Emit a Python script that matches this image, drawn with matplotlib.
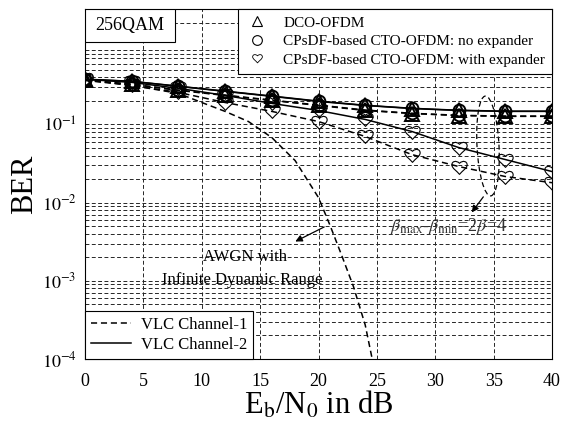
import matplotlib
matplotlib.use("Agg")
import matplotlib.pyplot as plt
import numpy as np
from matplotlib.path import Path
from matplotlib.lines import Line2D
from matplotlib.patches import Ellipse, Rectangle
from matplotlib.transforms import Affine2D
from matplotlib.ticker import LogLocator, NullFormatter, FixedLocator

plt.rcParams['font.family'] = ['Liberation Serif', 'DejaVu Serif']
plt.rcParams['mathtext.fontset'] = 'stix'

# ---------------- data ----------------
snr = [0, 4, 8, 12, 16, 20, 24, 28, 32, 36, 40]

# VLC Channel-1 (dashed)
dco_ch1 = [0.367, 0.326, 0.273, 0.235, 0.203, 0.175, 0.151, 0.138, 0.130, 0.127, 0.127]
noexp_ch1 = [0.369, 0.328, 0.275, 0.237, 0.205, 0.177, 0.153, 0.139, 0.131, 0.128, 0.128]
exp_ch1 = [0.367, 0.316, 0.257, 0.191, 0.147, 0.109, 0.0702, 0.0412, 0.0290, 0.0216, 0.0180]

# VLC Channel-2 (solid)
dco_ch2 = [0.378, 0.356, 0.307, 0.265, 0.229, 0.197, 0.175, 0.160, 0.151, 0.147, 0.147]
noexp_ch2 = [0.380, 0.357, 0.309, 0.267, 0.231, 0.199, 0.176, 0.161, 0.152, 0.148, 0.148]
exp_ch2 = [0.378, 0.3455, 0.290, 0.2355, 0.186, 0.151, 0.116, 0.0813, 0.0507, 0.0356, 0.0250]

# AWGN with infinite dynamic range
awgn_snr = [0, 4, 8, 10, 12, 14, 16, 18, 20, 21, 22, 23, 24, 24.6]
awgn_ber = [0.378, 0.316, 0.250, 0.191, 0.147, 0.109, 0.068, 0.0345, 0.0116,
            5.07e-3, 2.09e-3, 8.4e-4, 2.73e-4, 1.0e-4]

xticks = [0, 5, 10, 15, 20, 25, 30, 35, 40]
yticks = [1e-4, 1e-3, 1e-2, 1e-1]
ytick_labels = [r'$10^{-4}$', r'$10^{-3}$', r'$10^{-2}$', r'$10^{-1}$']

# heart marker path
heart = Path(
    [(0, -0.9), (-0.3, -0.5), (-1, -0.1), (-1, 0.35),
     (-1, 0.8), (-0.45, 1.0), (0, 0.55),
     (0.45, 1.0), (1, 0.8), (1, 0.35),
     (1, -0.1), (0.3, -0.5), (0, -0.9), (0, -0.9)],
    [Path.MOVETO, Path.CURVE4, Path.CURVE4, Path.CURVE4,
     Path.CURVE4, Path.CURVE4, Path.CURVE4,
     Path.CURVE4, Path.CURVE4, Path.CURVE4,
     Path.CURVE4, Path.CURVE4, Path.CURVE4, Path.CLOSEPOLY])

fig = plt.figure(figsize=(5.63, 4.26), dpi=100)
L, B, R, T = 85 / 563, 1 - 359 / 426, 552 / 563, 1 - 9 / 426
ax = fig.add_axes([L, B, R - L, T - B])

dash = (0, (4, 2.5))
lw = 1.1
tri_kw = dict(marker='^', ms=9.5, mfc='none', mec='black', mew=1.4, color='black', lw=lw)
cir_kw = dict(marker='o', ms=8.5, mfc='none', mec='black', mew=1.4, color='black', lw=lw)
hrt_kw = dict(marker=heart, ms=11, mfc='none', mec='black', mew=0.8, color='black', lw=lw)

ax.plot(awgn_snr, awgn_ber, color='black', lw=lw, linestyle=dash)

ax.plot(snr, dco_ch1, linestyle=dash, **tri_kw)
ax.plot(snr, noexp_ch1, linestyle=dash, **cir_kw)
ax.plot(snr, exp_ch1, linestyle=dash, **hrt_kw)
ax.plot(snr, dco_ch2, linestyle='-', **tri_kw)
ax.plot(snr, noexp_ch2, linestyle='-', **cir_kw)
ax.plot(snr, exp_ch2, linestyle='-', **hrt_kw)

ax.set_yscale('log')
ax.set_xlim(0, 40)
ax.set_ylim(1e-4, 3)
ax.set_xticks(xticks)
ax.set_xticklabels([str(v) for v in xticks])
ax.yaxis.set_major_locator(FixedLocator(yticks))
ax.set_yticklabels(ytick_labels)
ax.yaxis.set_minor_locator(LogLocator(base=10, subs=np.arange(2, 10), numticks=20))
ax.yaxis.set_minor_formatter(NullFormatter())
ax.tick_params(axis='both', which='both', direction='in', labelsize=13, length=0)
ax.tick_params(axis='x', pad=10)
ax.tick_params(axis='y', pad=6)

gkw = dict(color='0.15', lw=0.7, linestyle=(0, (4, 2.5)))
ax.grid(True, which='major', axis='both', **gkw)
ax.grid(True, which='minor', axis='y', **gkw)
for s in ax.spines.values():
    s.set_linewidth(0.8)

ax.set_xlabel(r'E$_{\rm b}$/N$_{\rm 0}$ in dB', fontsize=22, labelpad=0)
ax.set_ylabel('BER', fontsize=22, labelpad=2)

# annotations
ax.text(13.7, 2.03e-3, 'AWGN with', ha='center', va='center', fontsize=12)
ax.text(13.45, 1.03e-3, 'Infinite Dynamic Range', ha='center', va='center', fontsize=12)
ax.annotate('', xy=(17.8, 3.07e-3), xytext=(20.7, 5.07e-3),
            arrowprops=dict(arrowstyle='-|>', color='black', lw=0.9, mutation_scale=10))

ax.text(31.1, 4.92e-3, r'$\beta_{\rm max}$-$\beta_{\rm min}$=2$\beta$=4',
        ha='center', va='center', fontsize=13, color='0.2')
ax.annotate('', xy=(32.98, 7.02e-3), xytext=(34.26, 1.267e-2),
            arrowprops=dict(arrowstyle='-|>', color='black', lw=0.9, mutation_scale=10))

# dashed ellipse in pixel units
fw, fh = fig.get_size_inches() * fig.dpi
aw, ah = (R - L) * fw, (T - B) * fh
pix = Affine2D().scale(1 / aw, 1 / ah) + ax.transAxes
ell = Ellipse((488 - 85, 359 - 146), 22, 100, angle=3, transform=pix,
              fill=False, ec='black', lw=0.9, linestyle=(0, (4, 2.5)))
ax.add_patch(ell)

# 256QAM box
ax.add_patch(Rectangle((0, (359 - 42) / 350), 90 / 467, 1 - (359 - 42) / 350,
                       transform=ax.transAxes, fc='white', ec='black', lw=0.8, zorder=5))
ax.text(45 / 467, 1 - 16.5 / 350, '256QAM', transform=ax.transAxes, ha='center',
        va='center', fontsize=13, zorder=6)

# legends
h1 = [Line2D([], [], marker='^', ms=7, mfc='none', mec='black', mew=0.8, ls='none'),
      Line2D([], [], marker='o', ms=7, mfc='none', mec='black', mew=0.8, ls='none'),
      Line2D([], [], marker=heart, ms=7, mfc='none', mec='black', mew=0.6, ls='none')]
lab1 = ['DCO-OFDM', 'CPsDF-based CTO-OFDM: no expander', 'CPsDF-based CTO-OFDM: with expander']
leg1 = ax.legend(h1, lab1, loc='upper right', bbox_to_anchor=(1, 1), borderaxespad=0,
                 fancybox=False, framealpha=1, edgecolor='black', fontsize=11,
                 handlelength=1.6, handletextpad=0.9, labelspacing=0.32,
                 borderpad=0.45)
leg1.get_frame().set_linewidth(0.8)
ax.add_artist(leg1)

h2 = [Line2D([], [], color='black', lw=1.1, ls=(0, (4, 2.5))),
      Line2D([], [], color='black', lw=1.1, ls='-')]
leg2 = ax.legend(h2, ['VLC Channel-1', 'VLC Channel-2'], loc='lower left',
                 bbox_to_anchor=(0, 0), borderaxespad=0, fancybox=False, framealpha=1,
                 edgecolor='black', fontsize=12, handlelength=2.4, handletextpad=0.6,
                 labelspacing=0.25, borderpad=0.35)
leg2.get_frame().set_linewidth(0.8)

fig.savefig('out.png', dpi=100)
